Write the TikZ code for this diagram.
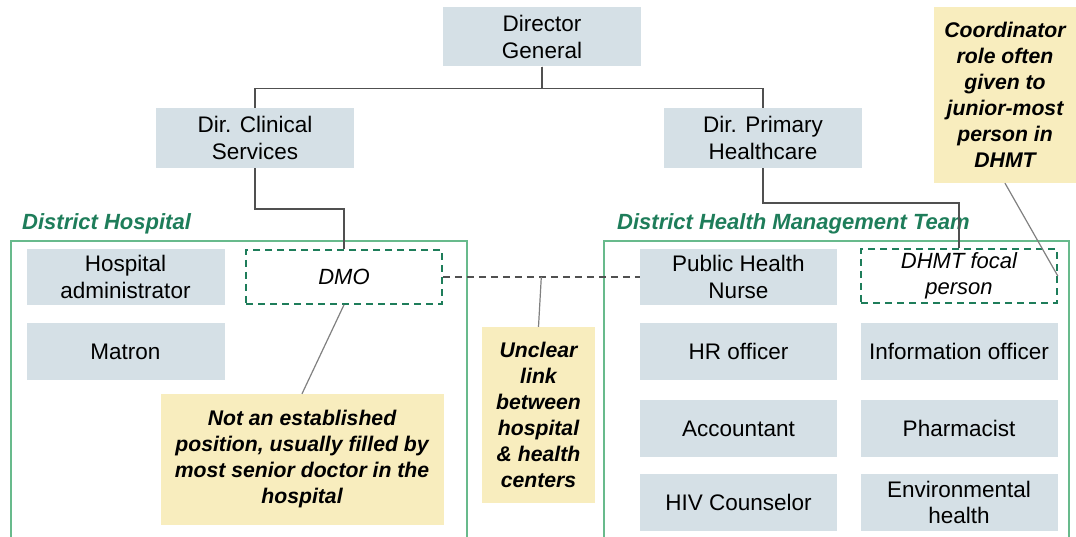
\documentclass[tikz,border=0pt]{standalone}
\usepackage{fontspec}
\setmainfont{Liberation Sans}
\usepackage{xcolor}
\usepackage{tikz}
\usetikzlibrary{calc}

\definecolor{boxblue}{RGB}{213,224,230}
\definecolor{noteyellow}{RGB}{248,237,190}
\definecolor{teamgreen}{RGB}{30,125,90}
\definecolor{framegreen}{RGB}{104,186,140}
\definecolor{linkgray}{RGB}{80,80,80}
\definecolor{calloutgray}{RGB}{128,128,128}

\begin{document}
\begin{tikzpicture}[x=1pt, y=-1pt,
	font=\fontsize{22.5}{26.5}\selectfont,
	post/.style={fill=boxblue, minimum width=198pt, minimum height=57pt, align=center, inner sep=1pt},
	vacant/.style={draw=teamgreen, dashed, dash pattern=on 7pt off 5pt, line width=1.6pt, minimum width=196pt, minimum height=54pt, align=center, inner sep=1pt, font=\fontsize{22}{26}\selectfont\itshape},
	note/.style={fill=noteyellow, align=center, inner sep=1pt, font=\fontsize{21.2}{26}\selectfont\bfseries\itshape},
	link/.style={draw=linkgray, line width=1.6pt},
	callout/.style={draw=calloutgray, line width=1.2pt},
	frame/.style={draw=framegreen, line width=1.6pt},
	grouplabel/.style={text=teamgreen, font=\fontsize{22}{26}\selectfont\bfseries\itshape, inner sep=0pt}]
	\useasboundingbox (0,0) rectangle (1076,537);

	% ministry level
	\node[post, minimum height=59pt] (dg) at (542,37) {Director\\General};
	\node[post, minimum height=60pt] (dcs) at (255,138) {Dir. Clinical\\Services};
	\node[post, minimum height=60pt] (dph) at (763,138) {Dir. Primary\\Healthcare};

	% district hospital
	\draw[frame] (11,537) -- (11,241) -- (467,241) -- (467,537);
	\node[grouplabel, anchor=base west] (dhlabel) at (22,230) {District Hospital};
	\node[post, minimum height=56pt] (admin) at (125.5,277) {Hospital\\administrator};
	\node[post] (matron) at (125.5,351.5) {Matron};
	\node[vacant] (dmo) at (344,277) {DMO};

	% district health management team
	\draw[frame] (604,537) -- (604,241) -- (1069,241) -- (1069,537);
	\node[grouplabel, anchor=base west] (dhmtlabel) at (617,230) {District Health Management Team};
	\node[post, minimum width=197pt, minimum height=56pt] (phn) at (738.5,277) {Public Health\\Nurse};
	\node[vacant] (focal) at (959,276) {DHMT focal\\person};
	\node[post, minimum width=197pt] (hr) at (738.5,351.5) {HR officer};
	\node[post, minimum width=197pt] (info) at (959,351.5) {Information officer};
	\node[post, minimum width=197pt] (acct) at (738.5,428.5) {Accountant};
	\node[post, minimum width=197pt] (pharm) at (959,428.5) {Pharmacist};
	\node[post, minimum width=197pt] (hiv) at (738.5,502.5) {HIV Counselor};
	\node[post, minimum width=197pt] (env) at (959,502.5) {Environmental\\health};

	% reporting lines
	\draw[link, line width=2.4pt] (dg.south) -- ++(0,22);
	\draw[link] (dg.south) -- ++(0,22) -| (dcs.north);
	\draw[link] (dg.south) -- ++(0,22) -| (dph.north);
	\draw[link] (dcs.south) -- ++(0,41) -| (dmo.north);
	\draw[link] (dph.south) -- ++(0,35) -| (focal.north);
	\draw[link, dashed, dash pattern=on 7pt off 5pt] (dmo.east) -- (phn.west);

	% callouts
	\node[note, minimum width=283pt, minimum height=131pt] (dmonote) at (302,459.5) {Not an established\\position, usually filled by\\most senior doctor in the\\hospital};
	\node[note, minimum width=113pt, minimum height=176pt] (linknote) at (538.5,415) {Unclear\\link\\between\\hospital\\\& health\\centers};
	\node[note, minimum width=142pt, minimum height=176pt] (focalnote) at (1005,95) {Coordinator\\role often\\given to\\junior-most\\person in\\DHMT};
	\draw[callout] (dmonote.north) -- (dmo.south);
	\draw[callout] (linknote.north) -- ($(dmo.east)!0.5!(phn.west)$);
	\draw[callout] (focalnote.south) -- (focal.east);

\end{tikzpicture}
\end{document}
